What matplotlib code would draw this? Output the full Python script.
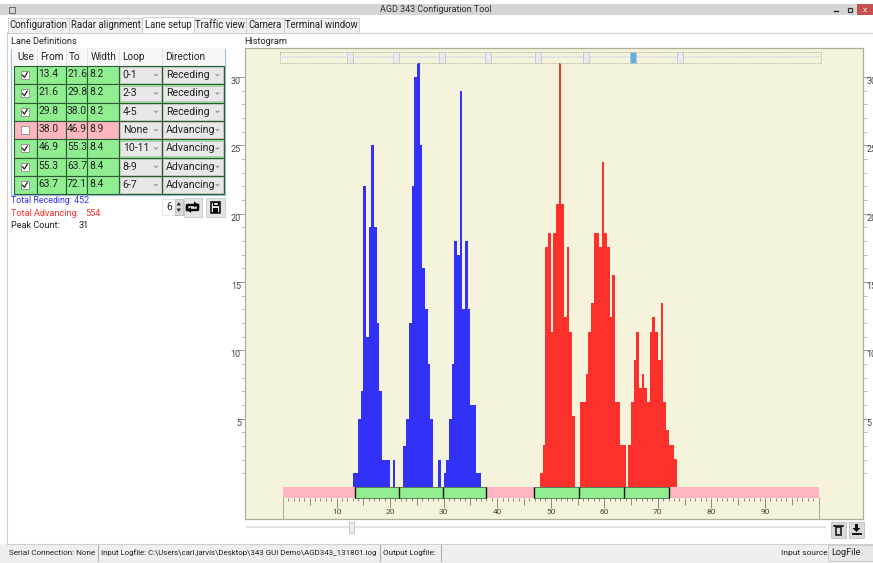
import numpy as np
import matplotlib
matplotlib.use("Agg")
import matplotlib.pyplot as plt
from matplotlib.patches import Rectangle, Polygon
from matplotlib.ticker import MultipleLocator

plt.rcParams["font.family"] = ["Roboto", "DejaVu Sans"]

# histogram counts, one value per 0.5 wide bin
bin_width = 0.5
receding_start = 13.0
receding_counts = [1, 1, 5, 7, 22, 11, 19, 25, 19, 12, 7, 2, 2, 2, 0, 2, 0, 0, 0,
                   3, 5, 12, 22, 30, 31, 25, 16, 13, 9, 5, 0, 0, 2, 0,
                   1, 2, 5, 9, 18, 17, 29, 13, 18, 13, 6, 6, 1, 1]
advancing_start = 48.0
advancing_counts = [1, 3, 17, 18, 11, 18, 20, 30, 20, 12, 17, 11, 5, 0, 0,
                    6, 6, 8, 11, 13, 18, 18, 17, 23, 18, 17, 12, 15, 6, 6, 3, 3, 0,
                    3, 6, 9, 11, 7, 8, 7, 6, 11, 12, 11, 9, 13, 6, 4, 3, 3, 2]
# advancing bars are drawn on a slightly taller scale than the axis
advancing_scale = 31 / 30

# lane table
use_lane = [True, True, True, False, True, True, True]
lane_from = [13.4, 21.6, 29.8, 38.0, 46.9, 55.3, 63.7]
lane_to = [21.6, 29.8, 38.0, 46.9, 55.3, 63.7, 72.1]
lane_width = [8.2, 8.2, 8.2, 8.9, 8.4, 8.4, 8.4]
lane_loop = ["0-1", "2-3", "4-5", "None", "10-11", "8-9", "6-7"]
lane_direction = ["Receding", "Receding", "Receding", "Advancing", "Advancing", "Advancing", "Advancing"]

tab_names = ["Configuration", "Radar alignment", "Lane setup", "Traffic view", "Camera", "Terminal window"]
tab_edges = [8, 69, 142, 194, 246, 284, 359]
col_names = ["Use", "From", "To", "Width", "Loop", "Direction"]
col_edges = [14, 36.7, 65.7, 87.3, 119.3, 162.3, 224]
top_handles = [350, 396, 442, 488, 538, 586, 633, 680]

GREEN = "#90EE90"
PINK = "#FFB6C1"
BEIGE = "#F5F3DC"
W, H = 873, 563
FS = 6.9

fig = plt.figure(figsize=(W / 100, H / 100), dpi=100, facecolor="white")

# whole window drawn in pixel coordinates
ui = fig.add_axes([0, 0, 1, 1])
ui.set_xlim(0, W)
ui.set_ylim(H, 0)
ui.axis("off")


def box(x0, y0, x1, y1, fc, ec="none", lw=0.8, z=1):
    r = Rectangle((x0, y0), x1 - x0, y1 - y0, facecolor=fc, edgecolor=ec, linewidth=lw, zorder=z)
    ui.add_patch(r)
    return r


def label(x, y, s, color="#222222", size=FS, ha="left", z=5, **kw):
    return ui.text(x, y, s, color=color, fontsize=size, ha=ha, va="center", zorder=z, **kw)


# title bar
box(0, 4, W, 15, "#D5D5D5")
box(857, 4, 873, 14.5, "#C75050")
label(436, 10, "AGD 343 Configuration Tool", color="#333333", size=6.5, ha="center")
box(9, 7, 15, 13, "#D5D5D5", ec="#666666", lw=0.7)
ui.plot([834, 838], [11, 11], color="#222222", lw=1, zorder=5)
box(848, 7.5, 852, 11.5, "none", ec="#333333", lw=0.9, z=5)
label(865, 9.5, "x", color="white", size=6, ha="center")

# tabs and page frame
ui.plot([7, 7], [32, 543], color="#D0D0D0", lw=0.8)
ui.plot([7, W], [32.5, 32.5], color="#CFCFCF", lw=0.8)
for i, name in enumerate(tab_names):
    active = name == "Lane setup"
    box(tab_edges[i], 16.5 if active else 18, tab_edges[i + 1], 33 if active else 32.5,
        "white" if active else "#F0F0F0", ec="#D0D0D0", lw=0.7, z=2)
    label((tab_edges[i] + tab_edges[i + 1]) / 2, 25, name, ha="center")

label(11, 42, "Lane Definitions", size=6.6)
label(244, 42, "Histogram", size=6.6)

# lane table
box(11, 48.5, 225, 194.5, "white", ec="#9CC0DC", lw=0.9, z=1)
box(11.5, 49, 224.5, 66, "#F7F7F7", z=1)
for i, name in enumerate(col_names):
    label(col_edges[i] + (3 if i else 3.5), 57.5, name, size=7.2)
    if i:
        ui.plot([col_edges[i]] * 2, [49, 66], color="#E3E3E3", lw=0.7, zorder=2)
row_h = (194.3 - 66) / 7
for r in range(7):
    y0 = 66 + r * row_h
    y1 = y0 + row_h
    yc = (y0 + y1) / 2
    fill = GREEN if use_lane[r] else PINK
    for c in range(6):
        box(col_edges[c], y0, col_edges[c + 1], y1, fill, ec="#2C5A35", lw=0.8, z=2)
    box(20.5, yc - 4, 29, yc + 4, "white", ec="#8A8A8A", lw=0.6, z=3)
    if use_lane[r]:
        ui.plot([22.5, 24.4, 27.2], [yc, yc + 2.2, yc - 2.4], color="#222222", lw=0.9, zorder=4)
    label(38.5, yc - 1, f"{lane_from[r]:.1f}", size=7.4)
    label(67, yc - 1, f"{lane_to[r]:.1f}", size=7.4)
    label(89, yc - 1, f"{lane_width[r]:.1f}", size=7.4)
    for c, text in ((4, lane_loop[r]), (5, lane_direction[r])):
        x0, x1 = col_edges[c], col_edges[c + 1]
        box(x0 + 1, y0 + 1.2, x1 - 1, y1 - 1.2, "#E8E8E8", ec="#BDBDBD", lw=0.5, z=3)
        t = label(x0 + 3.5, yc, text, size=7.6)
        t.set_clip_path(Rectangle((x0 + 1, y0), x1 - x0 - 11, row_h, transform=ui.transData))
        ui.plot([x1 - 8, x1 - 6.5, x1 - 5], [yc - 0.8, yc + 0.6, yc - 0.8], color="#777777", lw=0.6, zorder=5)

# totals
label(11, 200.5, "Total Receding: 452", color="#3333FF", size=6.4)
label(11, 213, "Total Advancing:", color="#FF3030", size=6.6)
label(85, 213, "554", color="#FF3030", size=6.6)
label(11, 225.5, "Peak Count:", size=6.6)
label(79, 225.5, "31", size=6.6)

# spin box and the two buttons under the table
box(161.5, 199, 184, 215, "white", ec="#E3E3E3", lw=0.6)
label(169.5, 207.5, "6", size=7.4, ha="center")
box(174.5, 199, 183, 215, "#D9D9D9", ec="#B5B5B5", lw=0.5, z=2)
ui.add_patch(Polygon([[176.5, 205.5], [178.7, 202], [181, 205.5]], closed=True, fc="#333333", zorder=3))
ui.add_patch(Polygon([[176.5, 208.5], [178.7, 212], [181, 208.5]], closed=True, fc="#333333", zorder=3))
box(183.5, 198, 202, 216.5, "#E4E4E4", ec="#C9C9C9", lw=0.6)
ui.plot([187, 187, 198, 198], [210, 204.5, 204.5, 207], color="black", lw=1.7, zorder=3)
ui.plot([198, 198, 187, 187], [204.5, 210, 210, 207], color="black", lw=1.7, zorder=3)
ui.add_patch(Polygon([[194, 201.5], [198, 204.5], [194, 207.5]], closed=True, fc="black", zorder=4))
ui.add_patch(Polygon([[191, 207], [187, 210], [191, 213]], closed=True, fc="black", zorder=4))
box(206, 198, 224.5, 216.5, "#E4E4E4", ec="#C9C9C9", lw=0.6)
box(210.5, 201.5, 220, 212.5, "none", ec="black", lw=1.1, z=3)
box(212.5, 201.5, 218, 205, "none", ec="black", lw=0.8, z=3)
box(212.5, 208, 218, 212.5, "black", z=3)

# status bar
box(0, 544, W, H, "#F0EEEE")
ui.plot([7, W], [543.5, 543.5], color="#CFCFCF", lw=0.8, zorder=2)
label(9, 553, "Serial Connection: None", size=5.9)
label(101, 553, r"Input Logfile: C:\Users\carl.jarvis\Desktop\343 GUI Demo\AGD343_131801.log", size=5.7)
label(383, 553, "Output Logfile:", size=5.9)
for x in (97.5, 379.5, 440.5):
    ui.plot([x, x], [545, 561], color="#A8A8A8", lw=0.7, zorder=2)
label(781, 553.5, "Input source", size=6.0)
box(828, 544.5, W + 2, 561, "#E8E8E8", ec="#C8C8C8", lw=0.6)
label(831, 552.5, "LogFile", size=6.6)

# bottom slider and buttons
box(246, 525.8, 826, 528.2, "#E3E3E3", z=2)
box(348.5, 522, 354, 532.5, "#EDEDED", ec="#BDBDBD", lw=0.6, z=3)
box(830.5, 522, 846, 537.5, "#DADADA", ec="#C0C0C0", lw=0.6)
box(835.5, 526.5, 841, 534.5, "none", ec="#111111", lw=1.1, z=3)
ui.plot([834, 842.5], [525.5, 525.5], color="#111111", lw=1.2, zorder=3)
box(849, 522, 864, 537.5, "#DADADA", ec="#C0C0C0", lw=0.6)
ui.add_patch(Polygon([[855, 524], [858, 524], [858, 528], [860.5, 528], [856.5, 532], [852.5, 528], [855, 528]],
                     closed=True, fc="#111111", zorder=3))
box(851.5, 532.5, 861.5, 535, "#111111", z=3)

# histogram panel: data x 0-100 spans px 283-818.5, one count is 13.67 px
x_per_px = 100 / 535.5
y_per_px = 1 / 13.67
panel_l, panel_r, panel_t, panel_b = 245, 862.5, 48, 518.5
ax = fig.add_axes([panel_l / W, 1 - panel_b / H, (panel_r - panel_l) / W, (panel_b - panel_t) / H], facecolor=BEIGE)
ax.set_xlim((panel_l - 283) * x_per_px, (panel_r - 283) * x_per_px)
ax.set_ylim((487 - panel_b) * y_per_px, (487 - panel_t) * y_per_px)

rec_x = receding_start + bin_width * np.arange(len(receding_counts))
adv_x = advancing_start + bin_width * np.arange(len(advancing_counts))
ax.bar(rec_x, receding_counts, width=bin_width, align="edge", color="#0000FF", alpha=0.8, linewidth=0)
ax.bar(adv_x, np.array(advancing_counts) * advancing_scale, width=bin_width, align="edge",
       color="#FF0000", alpha=0.8, linewidth=0)

# lane strip along the bottom
strip_top, strip_bot = 0, -0.8
ax.add_patch(Rectangle((0, strip_bot), 100, strip_top - strip_bot, facecolor=PINK, edgecolor="none", zorder=3))
for i in range(7):
    if use_lane[i]:
        ax.add_patch(Rectangle((lane_from[i], strip_bot), lane_to[i] - lane_from[i], strip_top - strip_bot,
                               facecolor=GREEN, edgecolor="#2C5A35", linewidth=0.5, zorder=4))
ax.vlines([lane_from[i] for i in range(7)] + [lane_to[-1]], strip_bot, strip_top, color="#111111", lw=1.0, zorder=5)

# ruler
ruler = np.arange(0, 101)
tick_len = np.where(ruler % 10 == 0, 0.75, np.where(ruler % 5 == 0, 0.55, 0.23))
ax.vlines(ruler, strip_bot - tick_len, strip_bot, color="#8A8A78", lw=0.7, zorder=3)
ax.vlines([0, 100], ax.get_ylim()[0], strip_bot, color="#A8A894", lw=0.7, zorder=3)
for v in range(10, 100, 10):
    ax.text(v, -1.83, str(v), fontsize=6, color="#444444", ha="center", va="center", zorder=5)

ax.set_xticks([])
ax.yaxis.set_major_locator(MultipleLocator(5))
ax.yaxis.set_minor_locator(MultipleLocator(1))
ax.set_yticks(range(5, 31, 5))
ax.set_yticks(range(1, 31), minor=True)
ax.tick_params(axis="y", which="major", left=True, right=True, labelleft=True, labelright=True,
               length=5, width=0.6, color="#8A8A8A", labelsize=6.5, labelcolor="#444444", pad=-2)
ax.tick_params(axis="y", which="minor", left=True, right=True, length=3, width=0.5, color="#A5A5A5")
for t in ax.yaxis.get_major_ticks():
    t.label1.set_va("top")
    t.label2.set_va("top")
for s in ax.spines.values():
    s.set_color("#AFAF9C")
    s.set_linewidth(0.9)

# range slider on top of the panel, drawn on the window layer above the axes
over = fig.add_axes([0, 0, 1, 1], facecolor="none")
over.set_xlim(0, W)
over.set_ylim(H, 0)
over.axis("off")
over.add_patch(Rectangle((280, 51.5), 540.5, 11, facecolor="none", edgecolor="#A8A898", lw=0.6, ls=(0, (1.5, 1.5))))
over.add_patch(Rectangle((280, 55.5), 540.5, 2, facecolor="#E3E3E3", edgecolor="none"))
for i, hx in enumerate(top_handles):
    selected = i == 6
    over.add_patch(Rectangle((hx - 2.8, 51.5), 5.6, 11, facecolor="#62AEE0" if selected else "#EAEAEA",
                             edgecolor="#C0C0C0", lw=0.5, zorder=3))

fig.savefig("out.png", dpi=100)
